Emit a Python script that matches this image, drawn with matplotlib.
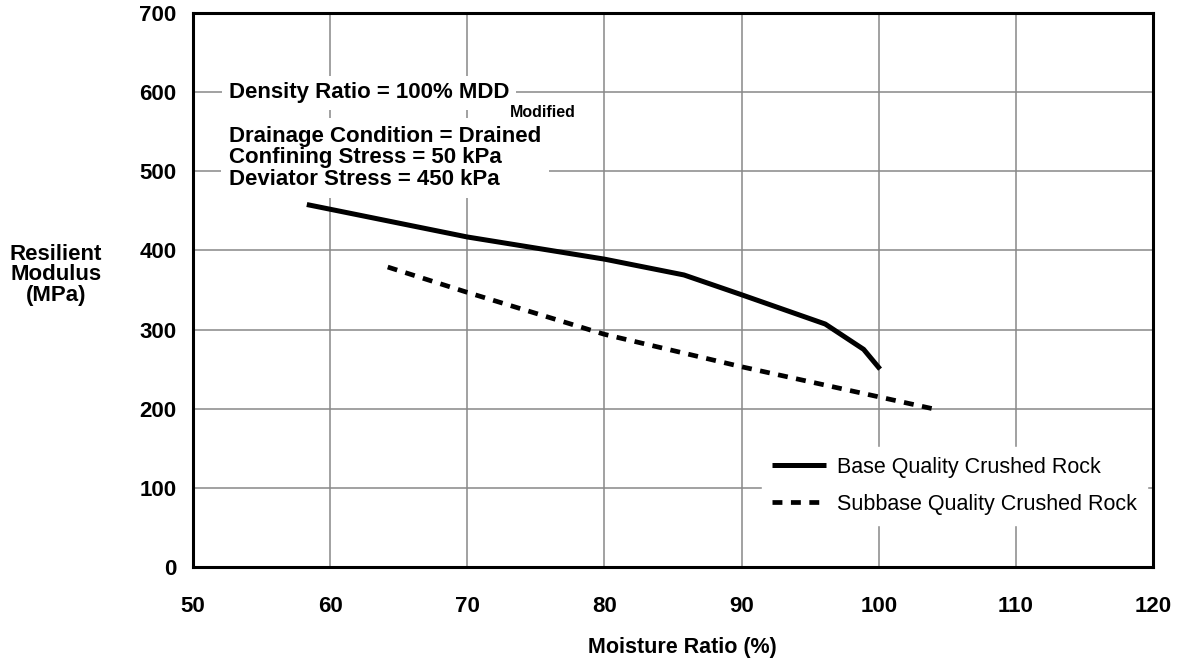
import matplotlib
matplotlib.use("Agg")
import matplotlib.pyplot as plt

plt.rcParams['font.family'] = ['Liberation Sans', 'DejaVu Sans']

# Data
base_x = [58.3, 70, 80, 85.8, 90, 96.1, 98.9, 100.1]
base_y = [458, 417, 389, 369, 344, 307, 275, 250]
sub_x = [64.2, 70, 80, 90, 100, 104.2]
sub_y = [379, 347, 294, 253, 215, 199]

x_ticks = [50, 60, 70, 80, 90, 100, 110, 120]
y_ticks = [0, 100, 200, 300, 400, 500, 600, 700]

legend_labels = ["Base Quality Crushed Rock", "Subbase Quality Crushed Rock"]
info_title = "Density Ratio = 100% MDD"
info_sub = "Modified"
info_lines = ["Drainage Condition = Drained",
              "Confining Stress = 50 kPa",
              "Deviator Stress = 450 kPa"]

fig = plt.figure(figsize=(11.82, 6.64), dpi=100)
ax = fig.add_axes([193/1182, 1-567/664, (1153-193)/1182, (567-13)/664])

ax.set_xlim(50, 120)
ax.set_ylim(0, 700)
ax.set_xticks(x_ticks)
ax.set_yticks(y_ticks)
ax.grid(True, color='#888888', linewidth=1.1, zorder=0)
ax.set_axisbelow(True)
ax.tick_params(axis='both', length=0, labelsize=16)
ax.tick_params(axis='x', pad=21)
ax.tick_params(axis='y', pad=12)
for lab in ax.get_xticklabels() + ax.get_yticklabels():
    lab.set_fontweight('bold')
for sp in ax.spines.values():
    sp.set_linewidth(2.2)
    sp.set_color('black')

l1, = ax.plot(base_x, base_y, color='black', lw=3.6, solid_capstyle='butt',
              label=legend_labels[0], zorder=3)
l2, = ax.plot(sub_x, sub_y, color='black', lw=3.4, dashes=(2.1, 1.8),
              label=legend_labels[1], zorder=3)

leg = ax.legend(loc='upper left', bbox_to_anchor=(762/1182, 1-447/664),
                bbox_transform=fig.transFigure, frameon=True, facecolor='white',
                edgecolor='white', framealpha=1, fancybox=False, fontsize=15.5,
                handlelength=2.5, handletextpad=0.55, borderpad=0.45,
                labelspacing=0.75, borderaxespad=0)

bb = dict(boxstyle='square,pad=0.3', facecolor='white', edgecolor='none')
t0 = ax.text(52.6, 592, info_title, fontsize=16, fontweight='bold',
             va='baseline', ha='left', bbox=bb, zorder=4)
ax.annotate(info_sub, xy=(1, 0), xycoords=t0, xytext=(1, -14),
            textcoords='offset pixels', fontsize=11.5, fontweight='bold',
            va='baseline', ha='left', bbox=bb, zorder=4)
ax.text(52.6, 483, "\n".join(info_lines), fontsize=16, fontweight='bold',
        va='baseline', ha='left', linespacing=1.02,
        bbox=dict(boxstyle='square,pad=0.35', facecolor='white', edgecolor='none'),
        zorder=4)

fig.text(56/1182, 1-275/664, "Resilient\nModulus\n(MPa)", fontsize=16,
         fontweight='bold', ha='center', va='center', linespacing=0.95)
fig.text(682/1182, 1-647/664, "Moisture Ratio (%)", fontsize=15.5,
         fontweight='bold', ha='center', va='center')

fig.savefig("out.png", dpi=100, facecolor='white')
